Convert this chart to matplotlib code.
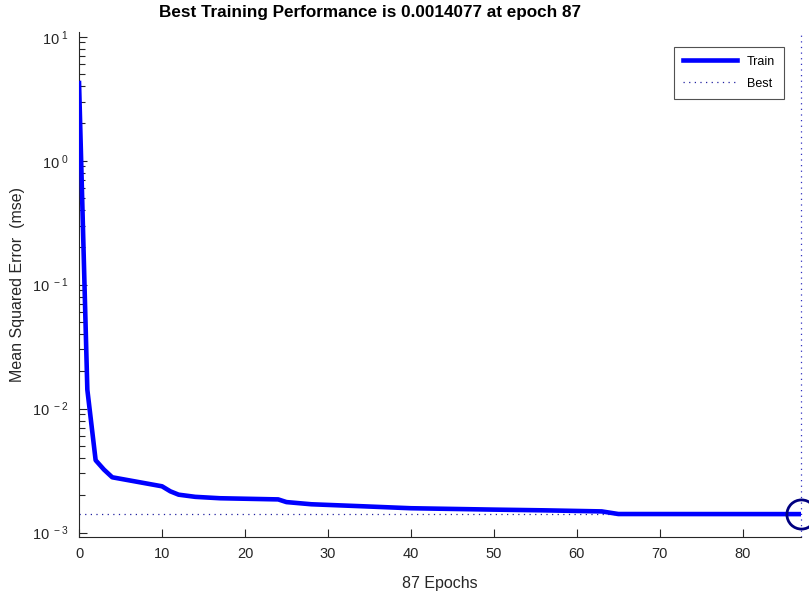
import numpy as np
import matplotlib
matplotlib.use("Agg")
import matplotlib.pyplot as plt
from matplotlib.ticker import FixedLocator, FixedFormatter, LogLocator, NullFormatter

plt.rcParams['font.family'] = ['Liberation Sans', 'DejaVu Sans']
plt.rcParams['mathtext.fontset'] = 'custom'
plt.rcParams['mathtext.rm'] = 'Liberation Sans'

# === Data ===
epochs = [0, 1, 2, 3, 4, 10, 11, 12, 14, 17, 24, 25, 28, 34, 40, 50, 56, 63, 65, 87]
train_mse = [4.24, 0.0142, 0.00383, 0.00322, 0.00279, 0.00236, 0.00215, 0.00202,
             0.00194, 0.00189, 0.00185, 0.00176, 0.00169, 0.00163, 0.00157,
             0.00153, 0.00151, 0.00148, 0.00141, 0.0014077]
best_epoch = 87
best_perf = 0.0014077
n_epochs = 87

y_ticks = [1e-3, 1e-2, 1e-1, 1e0, 1e1]
y_ticklabels = [r'$\mathregular{10^{\ -3}}$', r'$\mathregular{10^{\ -2}}$',
                r'$\mathregular{10^{\ -1}}$', r'$\mathregular{10^{\ 0}}$',
                r'$\mathregular{10^{\ 1}}$']
x_ticks = [0, 10, 20, 30, 40, 50, 60, 70, 80]

# === Plot ===
fig = plt.figure(figsize=(8.09, 5.96), dpi=100)
ax = fig.add_axes([0.0977, 0.099, 0.8923, 0.847])

ax.plot(epochs, train_mse, color='#0000ff', lw=3.3, label='Train',
        solid_joinstyle='round', zorder=3)
ax.axhline(best_perf, color='#2020a0', lw=0.9, ls=(0, (1, 3.5)), label='Best')
ax.axvline(best_epoch, color='#3030c0', lw=0.9, ls=(0, (1, 3.5)), clip_on=False)
ax.plot([best_epoch], [best_perf], 'o', ms=21, mfc='none', mec='#000080',
        mew=2.0, clip_on=False, zorder=4)

ax.set_yscale('log')
ax.set_xlim(0, n_epochs)
ax.set_ylim(0.00092, 10.9)

ax.yaxis.set_major_locator(FixedLocator(y_ticks))
ax.yaxis.set_major_formatter(FixedFormatter(y_ticklabels))
ax.yaxis.set_minor_locator(LogLocator(base=10, subs=np.arange(2, 10)))
ax.yaxis.set_minor_formatter(NullFormatter())
ax.set_xticks(x_ticks)

for s in ['top', 'right']:
    ax.spines[s].set_visible(False)
for s in ['left', 'bottom']:
    ax.spines[s].set_color('#262626')
    ax.spines[s].set_linewidth(0.8)

ax.tick_params(axis='both', which='both', direction='in', colors='#262626',
               labelsize=10.5, width=0.8)
ax.tick_params(axis='both', which='major', length=6, pad=7)
ax.tick_params(axis='y', which='minor', length=4)
ax.tick_params(axis='x', which='minor', bottom=False)

# title sits left of the axes centre, as in the reference
fig.text(370 / 809, 1 - 12 / 596, 'Best Training Performance is 0.0014077 at epoch 87',
         fontsize=12.3, fontweight='bold', ha='center', va='center')
ax.set_xlabel('87 Epochs', fontsize=11.5, color='#262626', labelpad=11)
ax.set_ylabel('Mean Squared Error  (mse)', fontsize=11.5, color='#262626', labelpad=5)

leg = ax.legend(loc='upper right', bbox_to_anchor=(0.985, 0.983), fontsize=9,
                handlelength=4.3, frameon=True, fancybox=False, borderpad=0.7,
                labelspacing=0.8)
leg.get_frame().set_edgecolor('#262626')
leg.get_frame().set_linewidth(0.8)

plt.savefig('out.png', dpi=100)
